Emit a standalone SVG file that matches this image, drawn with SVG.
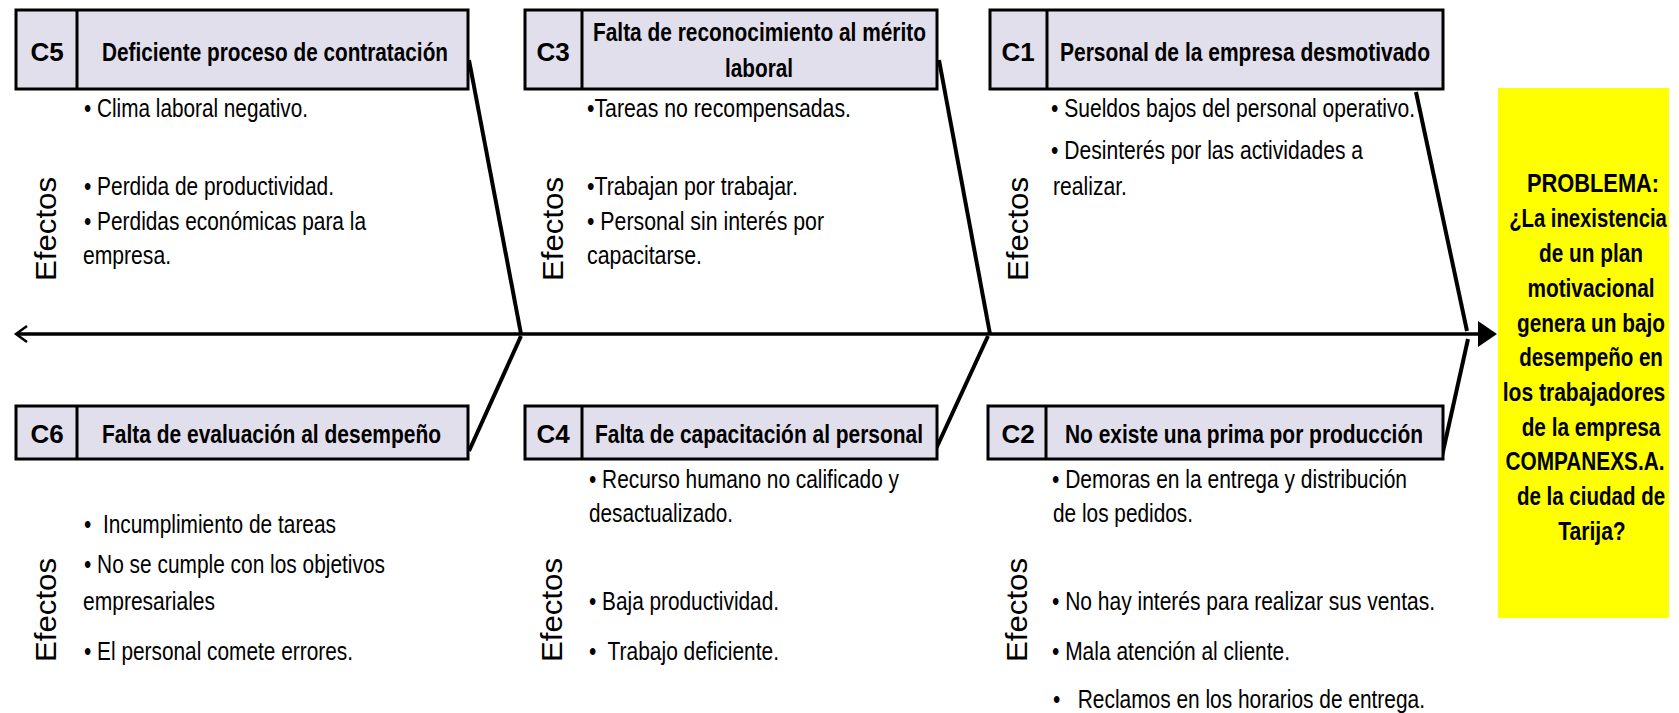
<svg xmlns="http://www.w3.org/2000/svg" width="1679" height="713" viewBox="0 0 1679 713">
<style>
.box{fill:#E2DFEC;stroke:#000;stroke-width:3}
.dv{stroke:#000;stroke-width:3}
.hdr{font-family:'Liberation Sans Narrow','Liberation Sans',Arial,sans-serif;font-weight:bold;font-size:26px;fill:#000}
.lbl{font-family:'Liberation Sans Narrow','Liberation Sans',Arial,sans-serif;font-weight:bold;font-size:26px;fill:#000;text-anchor:middle}
.bd{font-family:'Liberation Sans Narrow','Liberation Sans',Arial,sans-serif;font-size:25px;fill:#000}
.eff{font-family:'Liberation Sans',Arial,sans-serif;font-size:30px;fill:#000}
.pb{font-family:'Liberation Sans',Arial,sans-serif;font-weight:bold;font-size:26px;fill:#000;text-anchor:middle}
.bone{stroke:#000;stroke-width:4;fill:none}
.spine{stroke:#000;stroke-width:3.5;fill:none}
</style>

<g id="connectors">
<line class="spine" x1="17" y1="334" x2="1480" y2="334"/>
<path d="M27,326 L16,334 L27,342" fill="none" stroke="#000" stroke-width="2.5"/>
<polygon points="1478,321 1497,334 1478,347" fill="#000"/>
<line class="bone" x1="469" y1="60" x2="521" y2="334"/>
<line class="bone" x1="939" y1="60" x2="990" y2="334"/>
<line class="bone" x1="1416" y1="92" x2="1467" y2="331"/>
<line class="bone" x1="469" y1="451" x2="521" y2="336"/>
<line class="bone" x1="935" y1="451" x2="988" y2="336"/>
<line class="bone" x1="1442" y1="456" x2="1468" y2="339"/>
</g>

<g id="c5">
<rect class="box" x="16" y="10" width="452" height="79"/>
<line class="dv" x1="77" y1="10" x2="77" y2="89"/>
<text class="lbl" x="47" y="61">C5</text>
<text class="hdr" x="102" y="61" textLength="346" lengthAdjust="spacingAndGlyphs">Deficiente proceso de contratación</text>
<text class="bd" x="84" y="117" textLength="224" lengthAdjust="spacingAndGlyphs">• Clima laboral negativo.</text>
<text class="bd" x="84" y="195" textLength="250" lengthAdjust="spacingAndGlyphs">• Perdida de productividad.</text>
<text class="bd" x="84" y="230" textLength="282" lengthAdjust="spacingAndGlyphs">• Perdidas económicas para la</text>
<text class="bd" x="83" y="264" textLength="88" lengthAdjust="spacingAndGlyphs">empresa.</text>
<text class="eff" transform="translate(56,281) rotate(-90)" textLength="104" lengthAdjust="spacingAndGlyphs">Efectos</text>
</g>

<g id="c3">
<rect class="box" x="525" y="10" width="412" height="79"/>
<line class="dv" x1="582" y1="10" x2="582" y2="89"/>
<text class="lbl" x="553" y="61">C3</text>
<text class="hdr" x="593" y="41" textLength="333" lengthAdjust="spacingAndGlyphs">Falta de reconocimiento al mérito</text>
<text class="hdr" x="725" y="77" textLength="68" lengthAdjust="spacingAndGlyphs">laboral</text>
<text class="bd" x="587" y="117" textLength="264" lengthAdjust="spacingAndGlyphs">•Tareas no recompensadas.</text>
<text class="bd" x="587" y="195" textLength="211" lengthAdjust="spacingAndGlyphs">•Trabajan por trabajar.</text>
<text class="bd" x="587" y="230" textLength="237" lengthAdjust="spacingAndGlyphs">• Personal sin interés por</text>
<text class="bd" x="587" y="264" textLength="115" lengthAdjust="spacingAndGlyphs">capacitarse.</text>
<text class="eff" transform="translate(563,281) rotate(-90)" textLength="104" lengthAdjust="spacingAndGlyphs">Efectos</text>
</g>

<g id="c1">
<rect class="box" x="990" y="10" width="453" height="79"/>
<line class="dv" x1="1047" y1="10" x2="1047" y2="89"/>
<text class="lbl" x="1018" y="61">C1</text>
<text class="hdr" x="1060" y="61" textLength="370" lengthAdjust="spacingAndGlyphs">Personal de la empresa desmotivado</text>
<text class="bd" x="1051" y="117" textLength="364" lengthAdjust="spacingAndGlyphs">• Sueldos bajos del personal operativo.</text>
<text class="bd" x="1051" y="159" textLength="312" lengthAdjust="spacingAndGlyphs">• Desinterés por las actividades a</text>
<text class="bd" x="1053" y="195" textLength="74" lengthAdjust="spacingAndGlyphs">realizar.</text>
<text class="eff" transform="translate(1028,281) rotate(-90)" textLength="104" lengthAdjust="spacingAndGlyphs">Efectos</text>
</g>

<g id="c6">
<rect class="box" x="16" y="406" width="452" height="53"/>
<line class="dv" x1="77" y1="406" x2="77" y2="459"/>
<text class="lbl" x="47" y="443">C6</text>
<text class="hdr" x="102" y="443" textLength="339" lengthAdjust="spacingAndGlyphs">Falta de evaluación al desempeño</text>
<text class="bd" x="84" y="533" xml:space="preserve" textLength="252" lengthAdjust="spacingAndGlyphs">•  Incumplimiento de tareas</text>
<text class="bd" x="84" y="573" textLength="301" lengthAdjust="spacingAndGlyphs">• No se cumple con los objetivos</text>
<text class="bd" x="83" y="610" textLength="132" lengthAdjust="spacingAndGlyphs">empresariales</text>
<text class="bd" x="84" y="660" textLength="269" lengthAdjust="spacingAndGlyphs">• El personal comete errores.</text>
<text class="eff" transform="translate(56,662) rotate(-90)" textLength="104" lengthAdjust="spacingAndGlyphs">Efectos</text>
</g>

<g id="c4">
<rect class="box" x="525" y="406" width="412" height="53"/>
<line class="dv" x1="582" y1="406" x2="582" y2="459"/>
<text class="lbl" x="553" y="443">C4</text>
<text class="hdr" x="595" y="443" textLength="328" lengthAdjust="spacingAndGlyphs">Falta de capacitación al personal</text>
<text class="bd" x="589" y="488" textLength="310" lengthAdjust="spacingAndGlyphs">• Recurso humano no calificado y</text>
<text class="bd" x="589" y="522" textLength="144" lengthAdjust="spacingAndGlyphs">desactualizado.</text>
<text class="bd" x="589" y="610" textLength="190" lengthAdjust="spacingAndGlyphs">• Baja productividad.</text>
<text class="bd" x="589" y="660" xml:space="preserve" textLength="190" lengthAdjust="spacingAndGlyphs">•  Trabajo deficiente.</text>
<text class="eff" transform="translate(562,662) rotate(-90)" textLength="104" lengthAdjust="spacingAndGlyphs">Efectos</text>
</g>

<g id="c2">
<rect class="box" x="988" y="406" width="455" height="53"/>
<line class="dv" x1="1046" y1="406" x2="1046" y2="459"/>
<text class="lbl" x="1018" y="443">C2</text>
<text class="hdr" x="1065" y="443" textLength="358" lengthAdjust="spacingAndGlyphs">No existe una prima por producción</text>
<text class="bd" x="1052" y="488" textLength="355" lengthAdjust="spacingAndGlyphs">• Demoras en la entrega y distribución</text>
<text class="bd" x="1053" y="522" textLength="140" lengthAdjust="spacingAndGlyphs">de los pedidos.</text>
<text class="bd" x="1052" y="610" textLength="383" lengthAdjust="spacingAndGlyphs">• No hay interés para realizar sus ventas.</text>
<text class="bd" x="1052" y="660" textLength="238" lengthAdjust="spacingAndGlyphs">• Mala atención al cliente.</text>
<text class="bd" x="1053" y="708" xml:space="preserve" textLength="372" lengthAdjust="spacingAndGlyphs">•   Reclamos en los horarios de entrega.</text>
<text class="eff" transform="translate(1027,662) rotate(-90)" textLength="104" lengthAdjust="spacingAndGlyphs">Efectos</text>
</g>

<g id="problema">
<rect x="1498" y="88" width="171" height="530" fill="#FFFF00"/>
<text class="pb" transform="translate(1593,192) scale(0.84,1)" style="font-weight:900">PROBLEMA:</text>
<text class="pb" transform="translate(1588,227) scale(0.78,1)">¿La inexistencia</text>
<text class="pb" transform="translate(1591,262) scale(0.8,1)">de un plan</text>
<text class="pb" transform="translate(1591,297) scale(0.8,1)">motivacional</text>
<text class="pb" transform="translate(1591,332) scale(0.8,1)">genera un bajo</text>
<text class="pb" transform="translate(1591,366) scale(0.79,1)">desempeño en</text>
<text class="pb" transform="translate(1584,401) scale(0.81,1)">los trabajadores</text>
<text class="pb" transform="translate(1591,436) scale(0.8,1)">de la empresa</text>
<text class="pb" transform="translate(1585,470) scale(0.8,1)">COMPANEXS.A.</text>
<text class="pb" transform="translate(1591,505) scale(0.79,1)">de la ciudad de</text>
<text class="pb" transform="translate(1592,540) scale(0.81,1)">Tarija?</text>
</g>
</svg>
